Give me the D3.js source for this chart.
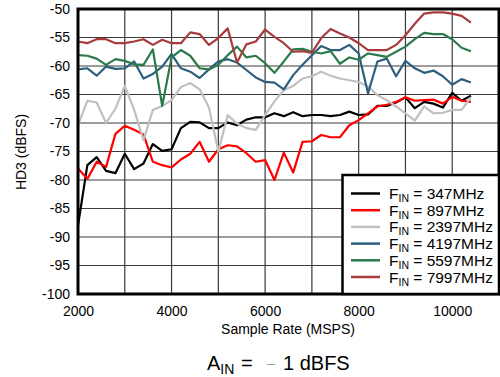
<!DOCTYPE html>
<html><head><meta charset="utf-8">
<script src="https://cdn.jsdelivr.net/npm/d3@7"></script>
<style>body{margin:0;background:#fff;}svg{display:block;font-family:"Liberation Sans",Arial,Helvetica,sans-serif;}</style>
</head><body><svg id="c" width="500" height="377"></svg>
<script>
const sampleRates = d3.range(2000, 10401, 200);
const xTicks = [2000, 4000, 6000, 8000, 10000];
const yTicks = [-100, -95, -90, -85, -80, -75, -70, -65, -60, -55, -50];
const seriesNames = ["347MHz", "897MHz", "2397MHz", "4197MHz", "5597MHz", "7997MHz"];
const seriesColors = ["#000000", "#ff0000", "#c0c0c0", "#2e5f7f", "#2b7a4b", "#a83c3c"];
const hd3_347 = [-88,-77.4,-76,-78.4,-78.8,-75.4,-78.1,-77.1,-73.7,-74.9,-74.6,-70.9,-69.8,-69.9,-70.9,-70.9,-69.9,-70.4,-69.4,-69,-69,-68.3,-68.8,-68.1,-68.8,-68.6,-68.6,-68.8,-68.6,-68,-68.6,-68.5,-67,-67,-66.4,-65.5,-67.4,-66.3,-66.6,-67.3,-64.7,-66.1,-65.2];
const hd3_897 = [-78,-79.8,-76.8,-77.7,-71.9,-70.5,-71.2,-72,-76.8,-77.4,-77.8,-76.4,-75.4,-73.3,-76.8,-74.6,-73.9,-74.1,-75.3,-76.8,-76.5,-80,-75.2,-78.7,-73.3,-73.2,-72.1,-72.5,-72.5,-70.4,-69.5,-68.3,-67.1,-66.8,-66.3,-65.5,-66.1,-66,-65.9,-66.6,-65.4,-66.1,-66.3];
const hd3_2397 = [-70.4,-66.1,-66.4,-70,-67.5,-63.5,-67.7,-73,-67.7,-67,-66,-63.7,-63,-64.1,-67.3,-75,-68.6,-70.1,-70.9,-71.2,-68.6,-66.2,-64.2,-63.5,-62.2,-61.8,-61,-61.7,-62.2,-62.5,-62.8,-63.6,-65.1,-66,-67.1,-68.3,-69.6,-67.1,-68.3,-68.2,-67.7,-67.7,-65.5];
const hd3_4197 = [-60.6,-60.4,-61.7,-60.1,-60.5,-60.4,-59.2,-62.2,-61.4,-60.1,-57.9,-60.4,-61,-62.1,-60.6,-59.2,-58.8,-59.4,-60.7,-62,-62.8,-62.9,-64.1,-61.6,-59.8,-58.1,-56.5,-57.2,-57.2,-56.3,-57.8,-64.8,-59.2,-58.7,-61.8,-59.1,-60.4,-61.2,-60.8,-61.8,-63.3,-62.3,-62.9];
const hd3_5597 = [-58.1,-58.2,-58.7,-59.8,-58.8,-59.1,-59.7,-59.8,-57.1,-67,-58.5,-57.2,-58.2,-60.4,-60.6,-59.8,-58.1,-56.6,-58.5,-58.2,-59.5,-61.2,-59.2,-57.1,-57,-57.5,-57.8,-57.4,-59.6,-58.5,-58.9,-57.8,-58.1,-58.4,-57.5,-56.6,-55.3,-54.2,-54.4,-54.4,-55.3,-56.8,-57.4];
const hd3_7997 = [-55.7,-56,-55.3,-55.3,-56,-56,-55.7,-55.3,-56.3,-55.4,-56,-56,-54.1,-54.4,-56.3,-55.1,-53.4,-59.4,-56.2,-55.7,-53.6,-54.9,-56,-57.5,-57.4,-57.7,-55.1,-53.5,-54.3,-55,-56,-57.2,-57.2,-57.2,-56.3,-54.6,-52.6,-50.8,-50.6,-50.6,-50.8,-51.2,-52.4];
const seriesValues = [hd3_347, hd3_897, hd3_2397, hd3_4197, hd3_5597, hd3_7997];

const svg = d3.select("#c");
const L = 78, R = 499, T = 9, B = 294;
const x = d3.scaleLinear().domain([2000, 11000]).range([L, R]);
const y = d3.scaleLinear().domain([-100, -50]).range([B, T]);

// grid
const g = svg.append("g");
g.selectAll(".vg").data(d3.range(3000, 11000, 1000)).join("line")
  .attr("x1", d => x(d)).attr("x2", d => x(d)).attr("y1", T).attr("y2", B)
  .attr("stroke", "#3a3a3a").attr("stroke-width", 1.2);
g.selectAll(".hg").data(d3.range(-95, -50, 5)).join("line")
  .attr("y1", d => y(d)).attr("y2", d => y(d)).attr("x1", L).attr("x2", R)
  .attr("stroke", "#3a3a3a").attr("stroke-width", 1.2);

// axes labels via d3 axes (no domain line)
const xAxis = svg.append("g").attr("transform", `translate(0,${B})`)
  .call(d3.axisBottom(x).tickValues(xTicks).tickSize(0).tickPadding(12).tickFormat(d => String(d)));
xAxis.select(".domain").remove();
xAxis.selectAll("text").attr("font-size", 14).attr("fill", "#000").attr("font-family", "inherit");
const yAxis = svg.append("g").attr("transform", `translate(${L},0)`)
  .call(d3.axisLeft(y).tickValues(yTicks).tickSize(0).tickPadding(8).tickFormat(d => String(d)));
yAxis.select(".domain").remove();
yAxis.selectAll("text").attr("font-size", 14).attr("fill", "#000").attr("font-family", "inherit");

// lines
const line = d3.line().x((d, i) => x(sampleRates[i])).y(d => y(d));
svg.append("g").selectAll("path").data(seriesValues).join("path")
  .attr("d", d => line(d)).attr("fill", "none")
  .attr("stroke", (d, i) => seriesColors[i]).attr("stroke-width", 2.2)
  .attr("stroke-linejoin", "round");

// frame
svg.append("rect").attr("x", L).attr("y", T).attr("width", R - L).attr("height", B - T)
  .attr("fill", "none").attr("stroke", "#000").attr("stroke-width", 3);

// legend
const lg = svg.append("g");
lg.append("rect").attr("x", 342.5).attr("y", 175).attr("width", R - 342.5).attr("height", B - 175)
  .attr("fill", "#fff").attr("stroke", "#000").attr("stroke-width", 2.5);
seriesNames.forEach((n, i) => {
  const cy = 193.5 + i * 16.7;
  lg.append("line").attr("x1", 351).attr("x2", 380).attr("y1", cy).attr("y2", cy)
    .attr("stroke", seriesColors[i]).attr("stroke-width", 2.5);
  const t = lg.append("text").attr("x", 389).attr("y", cy + 5.5).attr("font-size", 15.5).attr("fill", "#000");
  t.append("tspan").text("F");
  t.append("tspan").attr("font-size", 10.5).attr("dy", 3).text("IN");
  t.append("tspan").attr("dy", -3).text(" = " + n);
});

// titles
svg.append("text").attr("x", 288).attr("y", 334).attr("text-anchor", "middle")
  .attr("font-size", 14).text("Sample Rate (MSPS)");
svg.append("text").attr("transform", "translate(26,152) rotate(-90)").attr("text-anchor", "middle")
  .attr("font-size", 14).text("HD3 (dBFS)");
const f = svg.append("text").attr("y", 370).attr("font-size", 20).attr("fill", "#000");
f.append("tspan").attr("x", 207).text("A");
f.append("tspan").attr("font-size", 14).attr("dy", 4).text("IN");
f.append("tspan").attr("dy", -4).attr("x", 241).text("=");
f.append("tspan").attr("fill", "#999").attr("font-size", 14).attr("x", 267).attr("dy", -2).text("–");
f.append("tspan").attr("dy", 2).attr("x", 283).text("1 dBFS");
</script></body></html>
